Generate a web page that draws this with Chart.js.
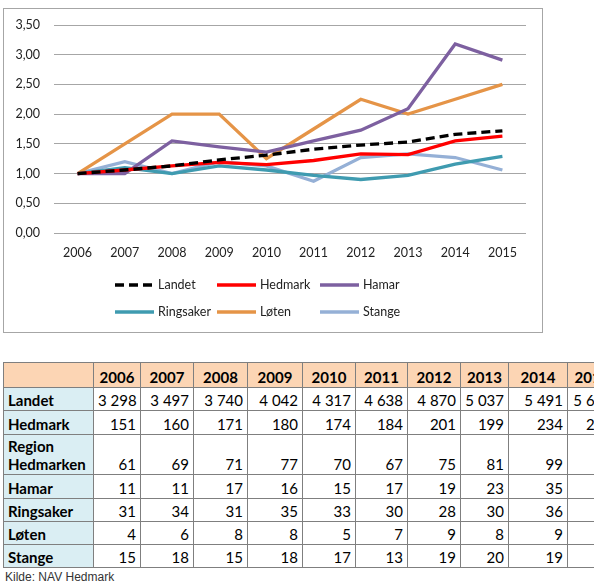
<!DOCTYPE html>
<html>
<head>
<meta charset="utf-8">
<script src="https://cdn.jsdelivr.net/npm/chart.js@4/dist/chart.umd.min.js"></script>
<style>
html,body{margin:0;padding:0;background:#fff;width:594px;height:581px;overflow:hidden;}
#box{position:absolute;left:3px;top:8px;width:540px;height:325px;border:1px solid #a6a6a6;box-sizing:border-box;}
#c{position:absolute;left:0;top:0;}
#tbl{position:absolute;left:3px;top:362px;width:613px;min-width:613px;border-collapse:collapse;table-layout:fixed;font-family:Lato,"Open Sans",sans-serif;font-size:15px;color:#000;}
#tbl td,#tbl th{border:1px solid #7f7f7f;padding:0 4px 1px 4px;vertical-align:bottom;white-space:nowrap;overflow:hidden;line-height:18px;}
#tbl th{background:#fcd5b4;font-weight:bold;text-align:center;}
#tbl td.lab{background:#daeef3;font-weight:bold;text-align:left;white-space:normal;}
#tbl td.num{text-align:right;}
#src{position:absolute;left:5px;top:570px;font-family:"Liberation Sans",Arial,sans-serif;font-size:12px;color:#333;}
</style>
</head>
<body>
<div id="box"><canvas id="c" width="538" height="323"></canvas></div>
<table id="tbl"></table>
<div id="src">Kilde: NAV Hedmark</div>
<script>
// ---- Chart data (index, 2006 = 1) ----
const years = ["2006","2007","2008","2009","2010","2011","2012","2013","2014","2015"];
const yTicks = [0,0.5,1,1.5,2,2.5,3,3.5];
const landet    = [1.00,1.06,1.13,1.23,1.31,1.41,1.48,1.53,1.66,1.72];
const hedmark   = [1.00,1.06,1.13,1.19,1.15,1.22,1.33,1.32,1.55,1.63];
const hamar     = [1.00,1.00,1.55,1.45,1.36,1.55,1.73,2.09,3.18,2.91];
const ringsaker = [1.00,1.10,1.00,1.13,1.06,0.97,0.90,0.97,1.16,1.29];
const loten     = [1.00,1.50,2.00,2.00,1.25,1.75,2.25,2.00,2.25,2.50];
const stange    = [1.00,1.20,1.00,1.20,1.13,0.87,1.27,1.33,1.27,1.06];

// ---- Table data (counts) ----
const tableLabels = ["Landet","Hedmark","Region Hedmarken","Hamar","Ringsaker","Løten","Stange"];
const tLandet    = [3298,3497,3740,4042,4317,4638,4870,5037,5491,5672];
const tHedmark   = [151,160,171,180,174,184,201,199,234,246];
const tRegion    = [61,69,71,77,70,67,75,81,99,95];
const tHamar     = [11,11,17,16,15,17,19,23,35,32];
const tRingsaker = [31,34,31,35,33,30,28,30,36,40];
const tLoten     = [4,6,8,8,5,7,9,8,9,10];
const tStange    = [15,18,15,18,17,13,19,20,19,16];

// build table
(function(){
  const rows=[tLandet,tHedmark,tRegion,tHamar,tRingsaker,tLoten,tStange];
  const colW=[90,47,53,54,55,53,52,53,48,59,49];
  const rowH=[25,23,24,40,24,23,23,23];
  const fmt=v=>String(v).replace(/\B(?=(\d{3})+(?!\d))/g,"\u00a0");
  let h='<colgroup>'+colW.map(w=>'<col style="width:'+w+'px">').join('')+'</colgroup>';
  h+='<tr style="height:'+rowH[0]+'px"><th></th>'+years.map(y=>'<th>'+y+'</th>').join('')+'</tr>';
  rows.forEach((r,i)=>{
    h+='<tr style="height:'+rowH[i+1]+'px"><td class="lab">'+tableLabels[i]+'</td>'+r.map(v=>'<td class="num">'+fmt(v)+'</td>').join('')+'</tr>';
  });
  document.getElementById('tbl').innerHTML=h;
})();

const FONT = 'Lato, "Open Sans", sans-serif';
const series = [
  {label:"Landet", data:landet, borderColor:"#000000", borderDash:[9,5]},
  {label:"Hedmark", data:hedmark, borderColor:"#ff0000"},
  {label:"Hamar", data:hamar, borderColor:"#7d60a0"},
  {label:"Ringsaker", data:ringsaker, borderColor:"#3f9bb0"},
  {label:"Løten", data:loten, borderColor:"#e59447"},
  {label:"Stange", data:stange, borderColor:"#95b0d6"}
];
const legendPlugin = {
  id:'customLegend',
  afterDraw(chart){
    const ctx=chart.ctx;
    const cols=[111,213,316], rowsY=[276,303];
    ctx.save();
    ctx.font='12.5px '+FONT;
    ctx.textBaseline='middle';
    chart.data.datasets.forEach((ds,i)=>{
      const x=cols[i%3], y=rowsY[Math.floor(i/3)];
      ctx.strokeStyle=ds.borderColor;
      ctx.lineWidth=3.3;
      ctx.setLineDash(ds.borderDash||[]);
      ctx.beginPath();ctx.moveTo(x,y);ctx.lineTo(x+39,y);ctx.stroke();
      ctx.setLineDash([]);
      ctx.fillStyle='#222';
      ctx.fillText(ds.label,x+43,y);
    });
    ctx.restore();
  }
};

new Chart(document.getElementById('c'),{
  type:'line',
  data:{labels:years,datasets:series.map(s=>Object.assign({borderWidth:3.3,pointRadius:0,pointHoverRadius:0,tension:0,fill:false,borderCapStyle:'butt',borderJoinStyle:'miter'},s))},
  options:{
    responsive:false,animation:false,devicePixelRatio:1,
    layout:{padding:{left:0,right:16,top:16,bottom:69}},
    plugins:{legend:{display:false},tooltip:{enabled:false}},
    scales:{
      x:{offset:true,
         grid:{display:false,drawTicks:false},border:{display:false},
         ticks:{padding:12,color:'#222',font:{family:FONT,size:12.5},maxRotation:0},
         afterFit(s){s.height=30;}},
      y:{min:0,max:3.5,
         afterBuildTicks(s){s.ticks=yTicks.map(v=>({value:v}));},
         grid:{color:'#a6a6a6',lineWidth:1,drawTicks:false},border:{display:false},
         ticks:{padding:14,color:'#222',font:{family:FONT,size:12.5},callback:v=>v.toFixed(2).replace('.',',')},
         afterFit(s){s.width=50;s.paddingTop=0;s.paddingBottom=0;}}
    }
  },
  plugins:[legendPlugin]
});
</script>
</body>
</html>
